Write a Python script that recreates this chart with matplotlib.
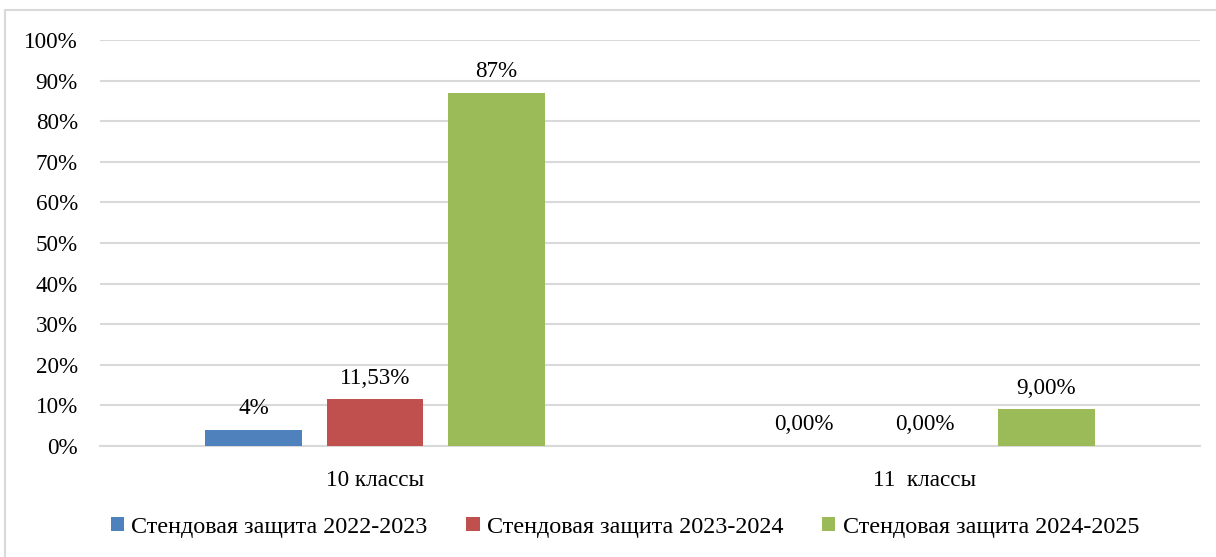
import matplotlib.pyplot as plt
import numpy as np
from matplotlib.patches import Rectangle

categories = ["10 классы", "11  классы"]
series = ["Стендовая защита 2022-2023", "Стендовая защита 2023-2024", "Стендовая защита 2024-2025"]
values = [
    [4.0, 0.0],
    [11.53, 0.0],
    [87.0, 9.0],
]
labels = [
    ["4%", "0,00%"],
    ["11,53%", "0,00%"],
    ["87%", "9,00%"],
]
colors = ["#4f81bd", "#c0504d", "#9bbb59"]

plt.rcParams["font.family"] = ["Liberation Serif", "DejaVu Serif"]
fs = 16.7

fig = plt.figure(figsize=(12.16, 5.57), dpi=100)
# outer chart frame
fig.patches.append(Rectangle((5 / 1216, -0.01), 1.02, 1 - 10 / 557 + 0.01,
                             transform=fig.transFigure, fill=False,
                             edgecolor="#d9d9d9", linewidth=1.5))

ax = fig.add_axes([100 / 1216, 1 - 446 / 557, 1100 / 1216, 406 / 557])

x = np.arange(len(categories))
width = 0.175
step = 0.221
for i, (name, vals) in enumerate(zip(series, values)):
    pos = x + (i - 1) * step
    ax.bar(pos, vals, width, color=colors[i], label=name, zorder=3)
    for p, v, lab in zip(pos, vals, labels[i]):
        ax.text(p, v + 2.6, lab, ha="center", va="bottom", fontsize=fs)

ax.set_xlim(-0.5, 1.5)
ax.set_ylim(0, 100)
ax.set_yticks(np.arange(0, 101, 10))
ax.set_yticklabels([f"{t}%" for t in range(0, 101, 10)], fontsize=fs)
ax.set_xticks(x)
ax.set_xticklabels(categories, fontsize=fs)
ax.tick_params(length=0)
ax.tick_params(axis="y", pad=16)
ax.tick_params(axis="x", pad=17)
ax.grid(axis="y", color="#d9d9d9", linewidth=1.5, zorder=0)
for s in ["top", "right", "left"]:
    ax.spines[s].set_visible(False)
ax.spines["bottom"].set_color("#d9d9d9")
ax.spines["bottom"].set_linewidth(1.5)

fig.legend(loc="center", bbox_to_anchor=(625 / 1216, 1 - 527 / 557), ncol=3,
           frameon=False, fontsize=17.4, handlelength=0.55, handleheight=0.55,
           handletextpad=0.3, columnspacing=1.6)

fig.savefig("out.png", dpi=100)
